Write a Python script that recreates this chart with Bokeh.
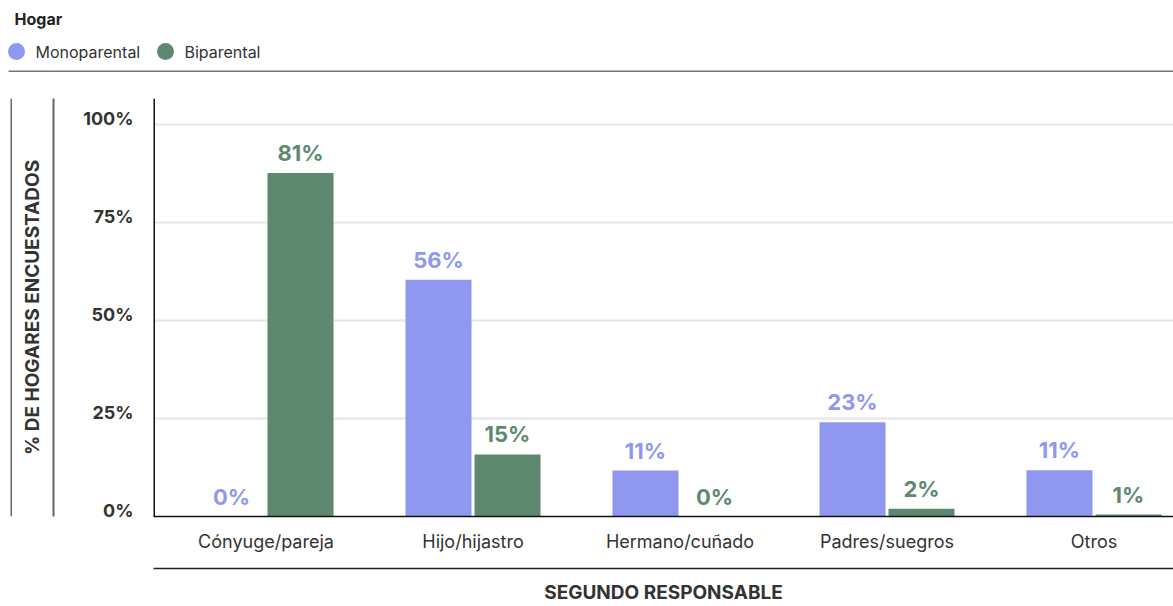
import numpy as np
from bokeh.plotting import figure
from bokeh.models import Range1d, FixedTicker, ColumnDataSource, LinearAxis
from bokeh.layouts import column, row
from bokeh.embed import file_html
from bokeh.resources import INLINE
from bokeh.core.properties import value

# ---- data ----
categories = ["Cónyuge/pareja", "Hijo/hijastro", "Hermano/cuñado", "Padres/suegros", "Otros"]
mono_values = [0, 60.3, 11.7, 24.0, 11.8]
bi_values = [87.5, 15.8, 0, 2.0, 0.5]
mono_labels = ["0%", "56%", "11%", "23%", "11%"]
bi_labels = ["81%", "15%", "0%", "2%", "1%"]
y_ticks = [0, 25, 50, 75, 100]
y_tick_labels = ["0%", "25%", "50%", "75%", "100%"]
series_names = ["Monoparental", "Biparental"]
legend_title = "Hogar"
x_title = "SEGUNDO RESPONSABLE"
y_title = "% DE HOGARES ENCUESTADOS"

BLUE = "#8F97EE"
GREEN = "#5E8970"
TEXT = "#333333"
FONT = "Inter"

W, H = 1173, 606
HEADER_H = 72
BODY_H = H - HEADER_H
STRIP_W = 12


def bare(fig):
    fig.axis.visible = False
    fig.grid.visible = False
    fig.outline_line_color = None
    fig.min_border = 0
    fig.background_fill_color = "white"
    fig.border_fill_color = "white"
    return fig


def no_ticks(ax):
    ax.major_tick_line_color = None
    ax.minor_tick_line_color = None
    ax.major_tick_out = 0
    ax.major_tick_in = 0
    ax.minor_tick_out = 0
    ax.minor_tick_in = 0


# ---- header (legend) ----
hdr = bare(figure(width=W, height=HEADER_H, x_range=Range1d(0, W), y_range=Range1d(HEADER_H, 0),
                  output_backend="svg", toolbar_location=None))
hdr.text(x=[14], y=[18], text=[legend_title], text_font=value(FONT), text_font_size="16px",
         text_font_style="bold", text_color="#222222", text_baseline="middle")
leg_src = ColumnDataSource(dict(x=[16, 165], y=[51, 51], color=[BLUE, GREEN], name=series_names))
hdr.scatter(x="x", y="y", color="color", size=17, source=leg_src, line_color=None)
hdr.text(x="x", y="y", text="name", source=leg_src, x_offset=19, text_font=value(FONT),
         text_font_size="16px", text_color=TEXT, text_baseline="middle")
hdr.segment(x0=[8], y0=[71], x1=[W], y1=[71], line_color="#777777", line_width=2)

# ---- left strip (frame is aligned with the chart frame by the row layout) ----
strip = bare(figure(width=STRIP_W, height=BODY_H, x_range=Range1d(0, STRIP_W),
                    y_range=Range1d(0, 1), output_backend="svg", toolbar_location=None))
strip.segment(x0=[11], y0=[0], x1=[11], y1=[1], line_color="#666666", line_width=2)

# ---- main chart ----
idx = np.arange(len(categories))
off = 0.1667
bw = 0.319
y_end = 106.5
lab_shift = 1.52  # tick labels sit slightly above their grid lines

p = figure(width=W - STRIP_W, height=BODY_H,
           x_range=Range1d(-0.5435, 4.384), y_range=Range1d(0, y_end),
           output_backend="svg", toolbar_location=None, y_axis_location=None,
           x_axis_location=None,
           min_border_left=153 - STRIP_W, min_border_right=0,
           min_border_top=98 - HEADER_H, min_border_bottom=89)
p.extra_y_ranges = {"lab": Range1d(-lab_shift, y_end - lab_shift)}
p.outline_line_color = None
p.background_fill_color = "white"
p.border_fill_color = "white"

mono_src = ColumnDataSource(dict(x=idx - off, top=mono_values, label=mono_labels))
bi_src = ColumnDataSource(dict(x=idx + off, top=bi_values, label=bi_labels))

p.vbar(x="x", top="top", bottom=0, width=bw, source=mono_src, fill_color=BLUE, line_color=None)
p.vbar(x="x", top="top", bottom=0, width=bw, source=bi_src, fill_color=GREEN, line_color=None)

for src, col in ((mono_src, BLUE), (bi_src, GREEN)):
    p.text(x="x", y="top", text="label", source=src, text_align="center",
           text_baseline="bottom", y_offset=-7, text_font=value(FONT),
           text_font_size="22px", text_font_style="bold", text_color=col)

# grid
p.xgrid.grid_line_color = None
p.ygrid.ticker = FixedTicker(ticks=y_ticks)
p.ygrid.grid_line_color = "#e6e6e6"
p.ygrid.grid_line_width = 2

# left axis 1: tick labels
ya = LinearAxis(y_range_name="lab", ticker=FixedTicker(ticks=y_ticks),
                major_label_overrides={t: l for t, l in zip(y_ticks, y_tick_labels)})
no_ticks(ya)
ya.axis_line_color = None
ya.major_label_standoff = 20
ya.major_label_text_font = FONT
ya.major_label_text_font_size = "18px"
ya.major_label_text_font_style = "bold"
ya.major_label_text_color = TEXT
ya.axis_label = " "
ya.axis_label_text_font_size = "18px"
ya.axis_label_standoff = 4
p.add_layout(ya, "left")

# black axis line at the frame
p.segment(x0=[-0.5435], y0=[0], x1=[-0.5435], y1=[y_end], line_color="#111111", line_width=3)

# left axis 2: grey line + title
ya2 = LinearAxis(ticker=FixedTicker(ticks=[]))
no_ticks(ya2)
ya2.major_label_text_font_size = "0px"
ya2.major_label_standoff = 0
ya2.axis_line_color = "#666666"
ya2.axis_line_width = 2
ya2.axis_label = y_title
ya2.axis_label_text_font = FONT
ya2.axis_label_text_font_size = "19px"
ya2.axis_label_text_font_style = "bold"
ya2.axis_label_text_color = TEXT
ya2.axis_label_standoff = 10
p.add_layout(ya2, "left")

# bottom axis 1: category labels
xa = LinearAxis(ticker=FixedTicker(ticks=list(idx)),
                major_label_overrides={int(i): c for i, c in zip(idx, categories)})
no_ticks(xa)
xa.axis_line_color = "#111111"
xa.axis_line_width = 1.5
xa.major_label_standoff = 14
xa.major_label_text_font = FONT
xa.major_label_text_font_size = "18px"
xa.major_label_text_color = TEXT
xa.axis_label = " "
xa.axis_label_text_font_size = "8px"
xa.axis_label_standoff = 2
p.add_layout(xa, "below")

# bottom axis 2: dark line + title
xa2 = LinearAxis(ticker=FixedTicker(ticks=[]))
no_ticks(xa2)
xa2.major_label_text_font_size = "0px"
xa2.major_label_standoff = 0
xa2.axis_line_color = "#222222"
xa2.axis_line_width = 1.5
xa2.axis_label = x_title
xa2.axis_label_text_font = FONT
xa2.axis_label_text_font_size = "19px"
xa2.axis_label_text_font_style = "bold"
xa2.axis_label_text_color = TEXT
xa2.axis_label_standoff = 12
p.add_layout(xa2, "below")

layout = column(hdr, row(strip, p))
open("out.html", "w").write(file_html(layout, INLINE))
